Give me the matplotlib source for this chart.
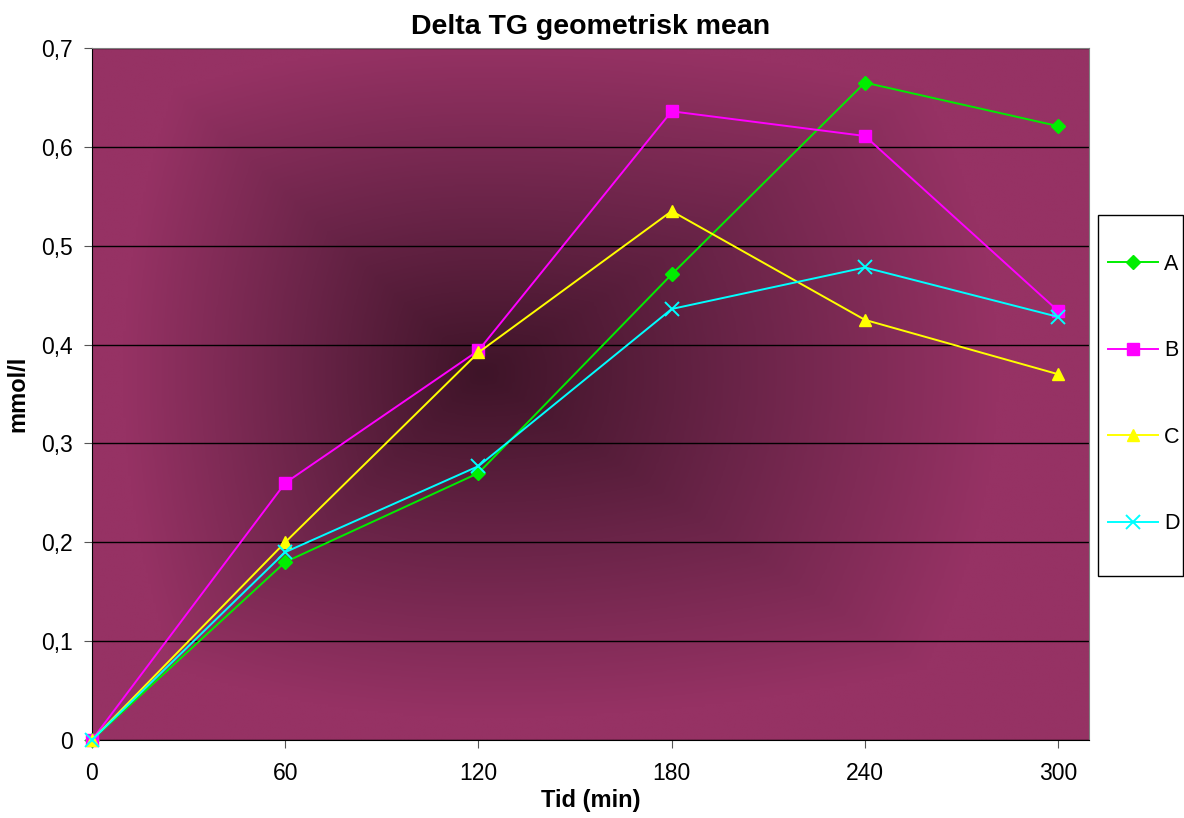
import numpy as np
import matplotlib
matplotlib.use("Agg")
import matplotlib.pyplot as plt
from matplotlib.colors import LinearSegmentedColormap
from matplotlib.ticker import FuncFormatter, MultipleLocator
from matplotlib.patches import Rectangle

plt.rcParams['font.family'] = ['Liberation Sans', 'DejaVu Sans']

tid = [0, 60, 120, 180, 240, 300]
serie_a = [0, 0.18, 0.27, 0.471, 0.665, 0.621]
serie_b = [0, 0.26, 0.394, 0.636, 0.611, 0.434]
serie_c = [0, 0.20, 0.392, 0.535, 0.425, 0.370]
serie_d = [0, 0.19, 0.277, 0.436, 0.478, 0.428]
navn = ["A", "B", "C", "D"]

fig = plt.figure(figsize=(11.84, 8.18), dpi=100)
ax = fig.add_axes([0.0777, 0.0954, 0.8421, 0.8459])

xmax = 309.6
ymax = 0.7
ax.set_xlim(0, xmax)
ax.set_ylim(0, ymax)

# gradient background (dark centre, purple edges)
gx, gy = np.meshgrid(np.linspace(0, 1, 400), np.linspace(1, 0, 300))
cx, cy = 0.39, 0.53
u = np.where(gx < cx, (cx - gx) / 0.36, (gx - cx) / 0.52)
v = np.where(gy < cy, (cy - gy) / 0.50, (gy - cy) / 0.48)
d = np.clip(np.maximum(u, v) * 0.6 + np.sqrt(u**2 + v**2) * 0.4, 0, 1)
cmap = LinearSegmentedColormap.from_list("bg", ["#3e1428", "#6a2448", "#963264"])
ax.imshow(d, cmap=cmap, extent=[0, xmax, 0, ymax], aspect='auto', zorder=0,
          interpolation='bilinear', vmin=0, vmax=1)

ax.yaxis.set_major_locator(MultipleLocator(0.1))
ax.set_xticks(tid)
ax.yaxis.grid(True, color='black', linewidth=1)
for gl in ax.yaxis.get_gridlines():
    gl.set_zorder(1)

ax.yaxis.set_major_formatter(FuncFormatter(lambda v, p: "0" if abs(v) < 1e-9 else ("%.1f" % v).replace(".", ",")))

ax.plot(tid, serie_a, color='#00ee00', marker='D', markersize=7, linewidth=1.4, label=navn[0], zorder=3, clip_on=False)
ax.plot(tid, serie_b, color='#ff00ff', marker='s', markersize=8, linewidth=1.4, label=navn[1], zorder=3, clip_on=False)
ax.plot(tid, serie_c, color='#ffff00', marker='^', markersize=9, linewidth=1.4, label=navn[2], zorder=3, clip_on=False)
ax.plot(tid, serie_d, color='#00ffff', marker='x', markersize=10, markeredgewidth=1.4, linewidth=1.4, label=navn[3], zorder=3, clip_on=False)

for s in ['top', 'right']:
    ax.spines[s].set_color('#808080')
for s in ['left', 'bottom']:
    ax.spines[s].set_color('black')

ax.tick_params(axis='both', labelsize=16.5, length=6, color='#555555')
ax.tick_params(axis='x', pad=10)
ax.tick_params(axis='y', pad=8)

ax.set_title("Delta TG geometrisk mean", fontsize=20.5, fontweight='bold', pad=10)
ax.set_xlabel("Tid (min)", fontsize=17, fontweight='bold', labelpad=3)
ax.set_ylabel("mmol/l", fontsize=17, fontweight='bold', labelpad=8)

# legend box drawn separately so its padding can match
boks = Rectangle((1098 / 1184, 1 - 576 / 818), 85 / 1184, 361 / 818,
                 transform=fig.transFigure, facecolor='white',
                 edgecolor='black', linewidth=1.0, zorder=4, clip_on=False)
ax.add_artist(boks)
leg = ax.legend(loc='center left', bbox_to_anchor=(1104 / 1184, 1 - 394 / 818),
                bbox_transform=fig.transFigure, fontsize=15.5, frameon=False,
                labelspacing=3.05, handlelength=2.3, borderpad=0.2,
                handletextpad=0.3, borderaxespad=0)
leg.set_zorder(5)

fig.savefig("out.png", dpi=100)
